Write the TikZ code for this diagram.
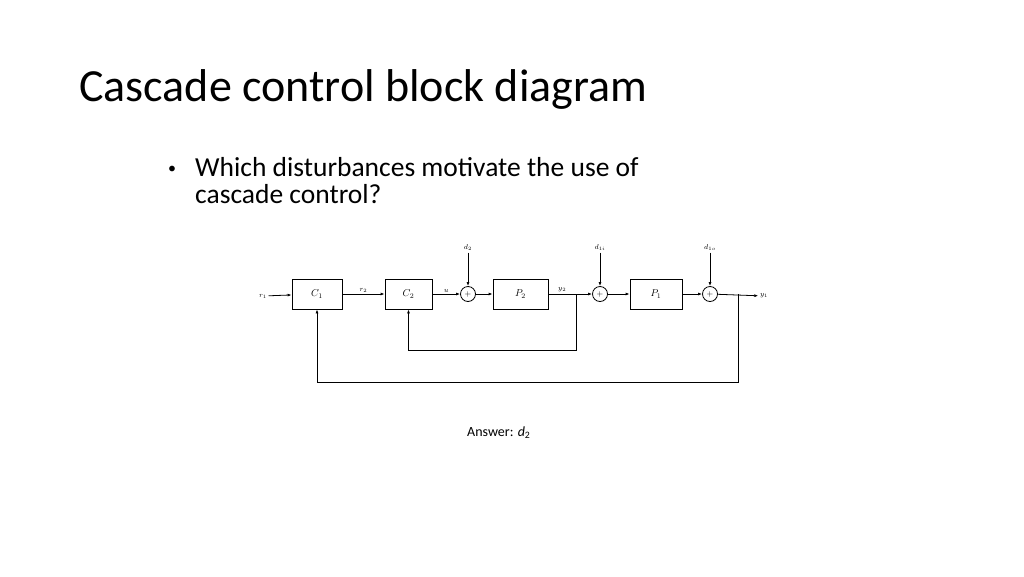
\documentclass[tikz,border=0pt]{standalone}
\usepackage{fontspec}
\setmainfont{Carlito}
\usetikzlibrary{arrows.meta}
\begin{document}
\begin{tikzpicture}[x=1pt,y=-1pt,
  blk/.style={draw, line width=0.8pt, minimum width=50pt, minimum height=30pt, inner sep=0pt, font=\fontsize{10}{12}\selectfont},
  sumpt/.style={draw, line width=0.8pt, circle, minimum size=15pt, inner sep=0pt, font=\fontsize{8}{8}\selectfont},
  sig/.style={font=\fontsize{7}{8}\selectfont, inner sep=1.5pt},
  lnk/.style={-{Latex[length=4pt,width=3pt]}, line width=0.8pt}]
\useasboundingbox (0,0) rectangle (1024,576);
% slide text
\node[anchor=base west, inner sep=0pt, font=\fontsize{46}{52}\selectfont] (title) at (79,101) {Cascade control block diagram};
\node[anchor=base west, inner sep=0pt, font=\fontsize{16}{20}\selectfont] (dot) at (168,173) {•};
\node[anchor=base west, inner sep=0pt, font=\fontsize{27.5}{30}\selectfont] (q1) at (195,176) {Which disturbances motivate the use of};
\node[anchor=base west, inner sep=0pt, font=\fontsize{27.5}{30}\selectfont] (q2) at (195,203) {cascade control?};
% blocks
\node[blk] (c1) at (317,294) {$C_1$};
\node[blk, minimum width=47pt] (c2) at (408.5,294) {$C_2$};
\node[sumpt] (s1) at (468,294) {$+$};
\node[blk, minimum width=55pt] (p2) at (520.5,294) {$P_2$};
\node[sumpt] (s2) at (600,294) {$+$};
\node[blk, minimum width=52pt] (p1) at (656,294) {$P_1$};
\node[sumpt] (s3) at (710,294) {$+$};
% signals
\node[sig] (r1) at (263,296) {$r_1$};
\node[sig] (y1) at (764,296) {$y_1$};
\node[sig] (d2) at (468,248) {$d_2$};
\node[sig] (d1) at (600,248) {$d_{1i}$};
\node[sig] (d1o) at (710,248) {$d_{1o}$};
\coordinate (b2) at (576,294);
\coordinate (b1) at (738,294);
% connectors
\draw[lnk] (r1) -- (c1);
\draw[lnk] (c1) -- node[sig, above] {$r_2$} (c2);
\draw[lnk] (c2) -- node[sig, above] {$u$} (s1);
\draw[lnk] (s1) -- (p2);
\draw[line width=0.8pt] (p2) -- node[sig, above] {$y_2$} (b2);
\draw[lnk] (b2) -- (s2);
\draw[lnk] (s2) -- (p1);
\draw[lnk] (p1) -- (s3);
\draw[lnk] (s3) -- (y1);
\draw[lnk] (d2) -- (s1);
\draw[lnk] (d1) -- (s2);
\draw[lnk] (d1o) -- (s3);
\draw[lnk] (b2) -- ++(0,56) -| (c2.south);
\draw[lnk] (b1) -- ++(0,88) -| (c1.south);
% answer
\node[anchor=base west, inner sep=0pt, font=\fontsize{14}{16}\selectfont] (ans) at (467,436) {Answer: \textit{d}\textsubscript{2}};
\end{tikzpicture}
\end{document}
